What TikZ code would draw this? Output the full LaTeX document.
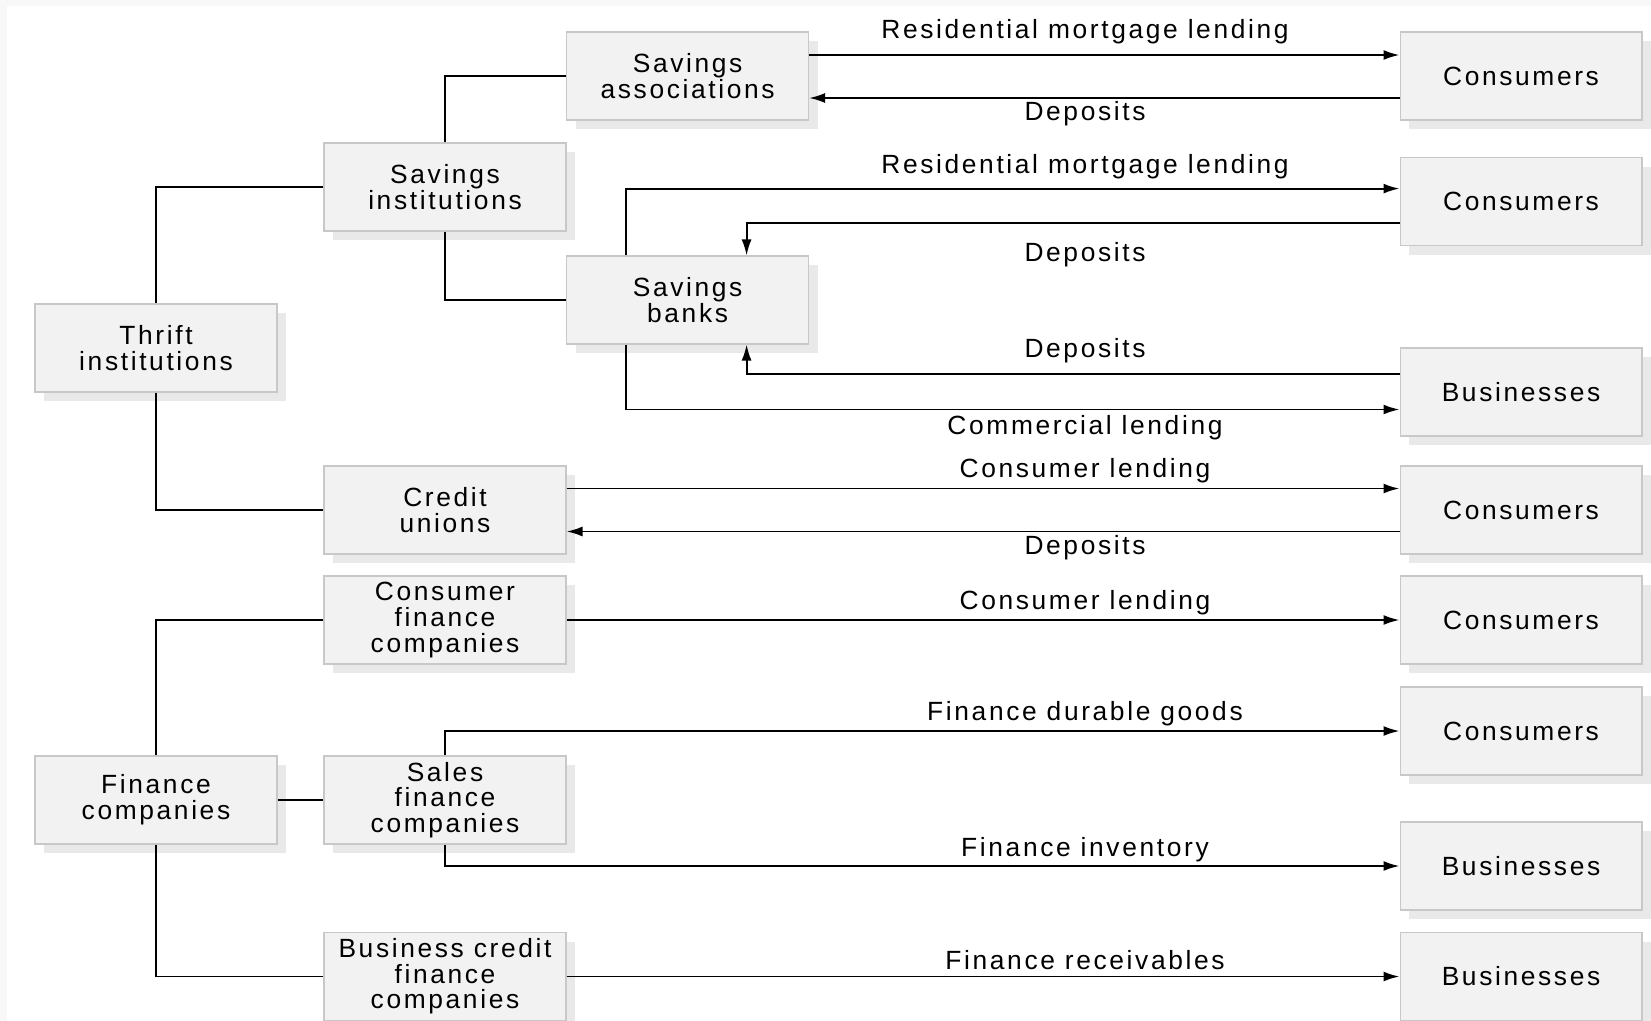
\documentclass[tikz,border=0pt]{standalone}
\usepackage{fontspec}
\setmainfont{Liberation Sans}[LetterSpace=10]
\usetikzlibrary{arrows.meta, shadows}
\definecolor{boxfill}{HTML}{F2F2F2}
\definecolor{boxline}{HTML}{C8C8C8}
\definecolor{shade}{HTML}{E9E9E9}
\definecolor{edge}{HTML}{F8F8F8}

\begin{document}
\begin{tikzpicture}[x=0.02cm, y=-0.02cm,
    box/.style={rectangle, draw=boxline, fill=boxfill, line width=0.6pt,
               minimum width=4.84cm, minimum height=1.76cm, align=center, inner sep=2pt,
               font=\fontsize{15}{14.6}\selectfont,
               drop shadow={shadow xshift=0.18cm, shadow yshift=-0.18cm, fill=shade, opacity=1}},
    ln/.style={line width=1.1pt, black},
    arr/.style={ln, -{Latex[length=0.32cm, width=0.2cm]}},
    lbl/.style={font=\fontsize{15}{15}\selectfont, inner sep=0pt},
]
    \useasboundingbox (0,0) rectangle (1651,1021);
    \fill[edge] (0,0) rectangle (1651,1021);
    \fill[white] (7,6) rectangle (1651,1021);

    % institutions
    \node[box] (thrift) at (156,348) {Thrift\\institutions};
    \node[box] (si) at (445,187) {Savings\\institutions};
    \node[box] (sa) at (687.6,76) {Savings\\associations};
    \node[box] (sb) at (687.6,300) {Savings\\banks};
    \node[box] (cu) at (445,510) {Credit\\unions};
    \node[box] (fin) at (156,800) {Finance\\companies};
    \node[box] (cfc) at (445,620) {Consumer\\finance\\companies};
    \node[box] (sfc) at (445,800) {Sales\\finance\\companies};
    \node[box] (bcf) at (445,976.5) {Business credit\\finance\\companies};

    % customers
    \node[box] (con1) at (1521,76) {Consumers};
    \node[box] (con2) at (1521,201.6) {Consumers};
    \node[box] (bus1) at (1521,392) {Businesses};
    \node[box] (con3) at (1521,510) {Consumers};
    \node[box] (con4) at (1521,620) {Consumers};
    \node[box] (con5) at (1521,731) {Consumers};
    \node[box] (bus2) at (1521,866) {Businesses};
    \node[box] (bus3) at (1521,976.5) {Businesses};

    % tree
    \draw[ln] (thrift.north) |- (si.west);
    \draw[ln] (thrift.south) |- (cu.west);
    \draw[ln] (si.north) |- (sa.west);
    \draw[ln] (si.south) |- (sb.west);
    \draw[ln] (fin.north) |- (cfc.west);
    \draw[ln] (fin.south) |- (bcf.west);
    \draw[ln] (fin.east) -- (sfc.west);

    % flows
    \draw[arr] ([yshift=0.42cm]sa.east) -- ([yshift=0.42cm]con1.west);
    \draw[arr] ([yshift=-0.44cm]con1.west) -- ([yshift=-0.44cm]sa.east);
    \draw[arr] ([xshift=-1.24cm]sb.north) |- ([yshift=0.26cm]con2.west);
    \draw[arr] ([yshift=-0.43cm]con2.west) -| ([xshift=1.18cm]sb.north);
    \draw[arr] ([yshift=0.36cm]bus1.west) -| ([xshift=1.18cm]sb.south);
    \draw[arr] ([xshift=-1.24cm]sb.south) |- ([yshift=-0.35cm]bus1.west);
    \draw[arr] ([yshift=0.43cm]cu.east) -- ([yshift=0.43cm]con3.west);
    \draw[arr] ([yshift=-0.43cm]con3.west) -- ([yshift=-0.43cm]cu.east);
    \draw[arr] (cfc.east) -- (con4.west);
    \draw[arr] (sfc.north) |- (con5.west);
    \draw[arr] (sfc.south) |- (bus2.west);
    \draw[arr] (bcf.east) -- (bus3.west);

    % labels
    \node[lbl] (l1) at (1085,31.6) {Residential mortgage lending};
    \node[lbl] (l2) at (1085,113.7) {Deposits};
    \node[lbl] (l3) at (1085,166.4) {Residential mortgage lending};
    \node[lbl] (l4) at (1085,254.8) {Deposits};
    \node[lbl] (l5) at (1085,350.6) {Deposits};
    \node[lbl] (l6) at (1085,427.5) {Commercial lending};
    \node[lbl] (l7) at (1085,470.7) {Consumer lending};
    \node[lbl] (l8) at (1085,547.6) {Deposits};
    \node[lbl] (l9) at (1085,602.3) {Consumer lending};
    \node[lbl] (l10) at (1085,714) {Finance durable goods};
    \node[lbl] (l11) at (1085,849.8) {Finance inventory};
    \node[lbl] (l12) at (1085,960.3) {Finance receivables};
\end{tikzpicture}
\end{document}
